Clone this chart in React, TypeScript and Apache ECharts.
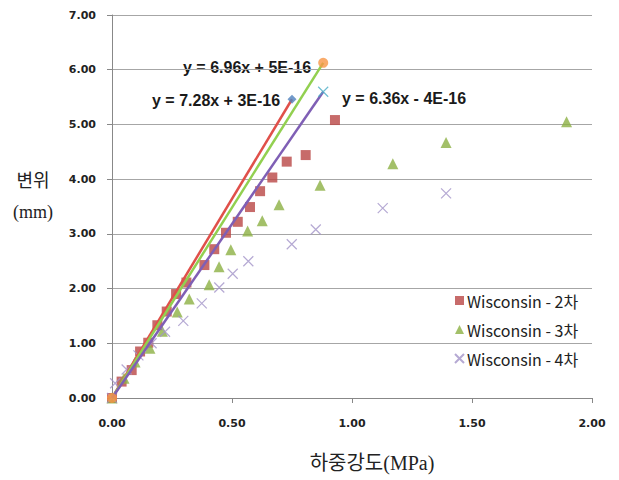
import React, { useEffect, useRef } from "react";
import * as echarts from "echarts";

const xTicks = ["0.00", "0.50", "1.00", "1.50", "2.00"];
const series2X = [0, 0.04, 0.082, 0.117, 0.151, 0.189, 0.228, 0.267, 0.31, 0.385, 0.426, 0.475, 0.524, 0.575, 0.617, 0.668, 0.728, 0.807, 0.929];
const series2Y = [0, 0.3, 0.51, 0.85, 1.01, 1.33, 1.58, 1.9, 2.11, 2.43, 2.72, 3.02, 3.22, 3.49, 3.78, 4.03, 4.32, 4.44, 5.08];
const series3X = [0, 0.05, 0.096, 0.158, 0.21, 0.272, 0.322, 0.405, 0.446, 0.495, 0.565, 0.626, 0.696, 0.867, 1.17, 1.392, 1.894];
const series3Y = [0, 0.36, 0.66, 0.91, 1.22, 1.57, 1.81, 2.07, 2.4, 2.71, 3.05, 3.24, 3.53, 3.89, 4.28, 4.67, 5.05];
const series4X = [0, 0.013, 0.061, 0.11, 0.165, 0.221, 0.297, 0.374, 0.447, 0.503, 0.568, 0.749, 0.849, 1.128, 1.392];
const series4Y = [0, 0.27, 0.52, 0.78, 1.0, 1.21, 1.41, 1.73, 2.02, 2.27, 2.5, 2.81, 3.08, 3.47, 3.74];
const names = ["Wisconsin - 2차", "Wisconsin - 3차", "Wisconsin - 4차"];
const trendSlopes = [7.28, 6.96, 6.36];
const trendEndX = [0.75, 0.88, 0.88];
const equations = ["y = 7.28x + 3E-16", "y = 6.96x + 5E-16", "y = 6.36x - 4E-16"];

const zip = (xs: number[], ys: number[]) => xs.map((x, i) => [x, ys[i]]);
const crossPath = "path://M0,0L10,10M10,0L0,10";

export default function App() {
  const ref = useRef<HTMLDivElement>(null);
  useEffect(() => {
    const chart = echarts.init(ref.current!, undefined, { renderer: "svg" });
    const trend = (i: number) => [
      [0, 0],
      [trendEndX[i], +(trendSlopes[i] * trendEndX[i]).toFixed(3)],
    ];
    const eqFont = "bold 16px 'Liberation Sans'";
    chart.setOption({
      animation: false,
      backgroundColor: "#ffffff",
      grid: { left: 112, right: 27, top: 15, bottom: 82 },
      xAxis: {
        type: "value",
        min: 0,
        max: 2,
        interval: 0.5,
        axisLine: { show: true, lineStyle: { color: "#888888" } },
        axisTick: { show: true, length: 5, lineStyle: { color: "#888888" } },
        splitLine: { show: false },
        axisLabel: {
          margin: 20,
          fontFamily: "DejaVu Sans",
          fontWeight: "bold",
          fontSize: 11,
          color: "#222",
          formatter: (v: number) => xTicks[Math.round(v / 0.5)] ?? v.toFixed(2),
        },
      },
      yAxis: {
        type: "value",
        min: 0,
        max: 7,
        interval: 1,
        axisLine: { show: true, lineStyle: { color: "#888888" } },
        axisTick: { show: true, length: 5, lineStyle: { color: "#888888" } },
        splitLine: { show: true, lineStyle: { color: "#a6a6a6" } },
        axisLabel: {
          margin: 16,
          fontFamily: "DejaVu Sans",
          fontWeight: "bold",
          fontSize: 11,
          color: "#222",
          formatter: (v: number) => v.toFixed(2),
        },
      },
      legend: {
        orient: "vertical",
        left: 449,
        top: 287,
        itemGap: 12,
        itemWidth: 9,
        itemHeight: 9,
        data: names,
        textStyle: { fontFamily: "Noto Sans CJK KR", fontSize: 16, lineHeight: 17, color: "#222", padding: [0, 0, 0, -2] },
      },
      graphic: [
        { type: "text", x: 152, y: 100, style: { text: equations[0], font: eqFont, fill: "#1a1a1a", textVerticalAlign: "middle" } },
        { type: "text", x: 183, y: 67, style: { text: equations[1], font: eqFont, fill: "#1a1a1a", textVerticalAlign: "middle" } },
        { type: "text", x: 342, y: 98, style: { text: equations[2], font: eqFont, fill: "#1a1a1a", textVerticalAlign: "middle" } },
        { type: "text", x: 33, y: 181, style: { text: "변위", font: "18px 'Liberation Serif', 'Noto Sans CJK KR'", fill: "#222", textAlign: "center", textVerticalAlign: "middle" } },
        { type: "text", x: 33, y: 212, style: { text: "(mm)", font: "18px 'Liberation Serif', 'Noto Sans CJK KR'", fill: "#222", textAlign: "center", textVerticalAlign: "middle" } },
        { type: "text", x: 372, y: 463, style: { text: "하중강도(MPa)", font: "20px 'Liberation Serif', 'Noto Sans CJK KR'", fill: "#222", textAlign: "center", textVerticalAlign: "middle" } },
      ],
      series: [
        {
          name: "trend2",
          type: "line",
          data: trend(0),
          symbol: "none",
          lineStyle: { color: "#e0504a", width: 2.5 },
          z: 3,
          silent: true,
        },
        {
          name: "trend3",
          type: "line",
          data: trend(1),
          symbol: "none",
          lineStyle: { color: "#92d050", width: 2.5 },
          z: 3,
          silent: true,
        },
        {
          name: "trend4",
          type: "line",
          data: trend(2),
          symbol: "none",
          lineStyle: { color: "#7f5fb5", width: 2.5 },
          z: 3,
          silent: true,
        },
        {
          name: names[0],
          type: "scatter",
          data: zip(series2X, series2Y),
          symbol: "rect",
          symbolSize: 10,
          itemStyle: { color: "#b94645" },
          z: 2,
        },
        {
          name: names[1],
          type: "scatter",
          data: zip(series3X, series3Y),
          symbol: "triangle",
          symbolSize: 11,
          itemStyle: { color: "#8cb043" },
          z: 2,
        },
        {
          name: names[2],
          type: "scatter",
          data: zip(series4X, series4Y),
          symbol: crossPath,
          symbolSize: 10,
          itemStyle: { color: "transparent", borderColor: "#a393c8", borderWidth: 1.2 },
          z: 2,
        },
        {
          name: "end2",
          type: "scatter",
          data: [trend(0)[1]],
          symbol: "diamond",
          symbolSize: 9,
          itemStyle: { color: "#4f81bd" },
          z: 4,
        },
        {
          name: "end3",
          type: "scatter",
          data: [[0, 0], trend(1)[1]],
          symbol: "circle",
          symbolSize: 10,
          itemStyle: { color: "#f79646" },
          z: 4,
        },
        {
          name: "end4",
          type: "scatter",
          data: [trend(2)[1]],
          symbol: crossPath,
          symbolSize: 10,
          itemStyle: { color: "transparent", borderColor: "#4bacc6", borderWidth: 1.2 },
          z: 4,
        },
      ],
    });
    return () => chart.dispose();
  }, []);
  return <div ref={ref} style={{ width: 619, height: 480, position: "absolute", left: 0, top: 0 }} />;
}
